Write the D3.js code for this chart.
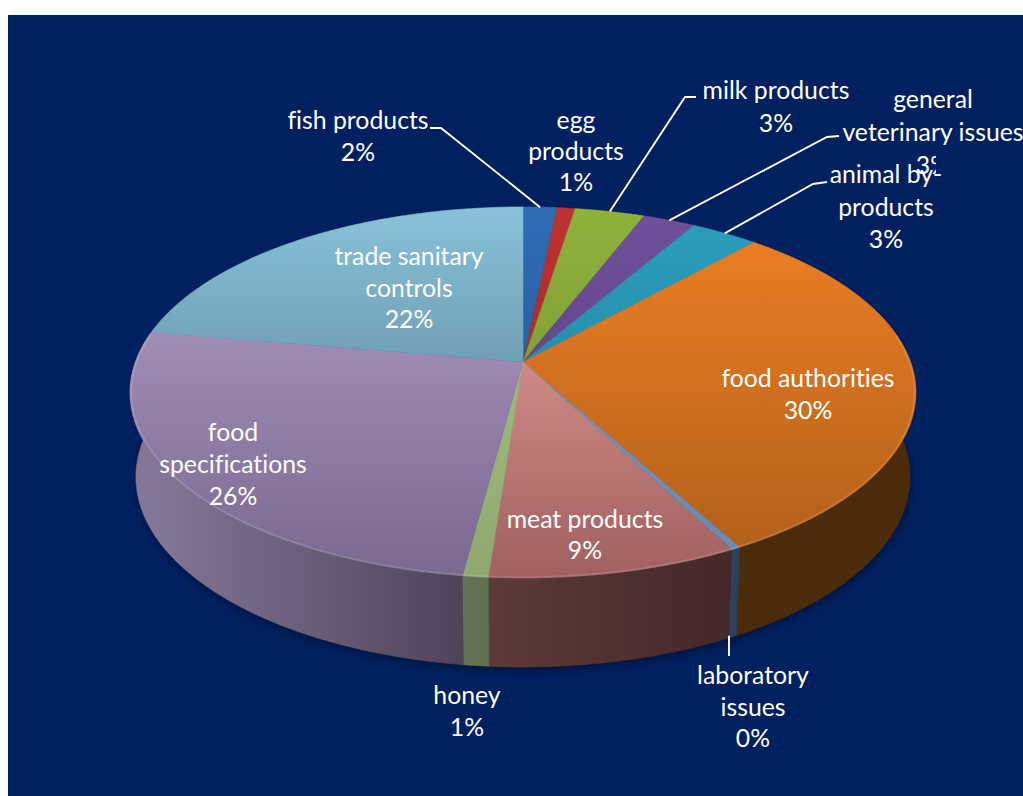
<!DOCTYPE html>
<html>
<head>
<meta charset="utf-8">
<script src="https://cdn.jsdelivr.net/npm/d3@7"></script>
<style>
html,body{margin:0;padding:0;background:#fff;overflow:hidden}
svg{display:block}
text{font-family:Lato,"Open Sans",sans-serif;fill:#fff;text-anchor:middle;font-variant-ligatures:none}
</style>
</head>
<body>
<svg id="chart" width="1023" height="796"></svg>
<script>
// Shares of the audit programme by subject area, clockwise from twelve o'clock.
const categories = ["fish products","egg products","milk products","general veterinary issues","animal by-products","food authorities","laboratory issues","meat products","honey","food specifications","trade sanitary controls"];
const shares = [1.63,0.87,3.36,2.55,3.25,30.4,0.33,8.8,0.9,25.6,22.31];

// Top face shading runs from the far rim to the near rim.
const topFar  = ["#2f6db5","#bd3230","#8fb23c","#70509c","#2a9fbf","#f08125","#7d9fc6","#f0a8a2","#adc782","#b49fcc","#88c2da"];
const topNear = ["#234f86","#8e2624","#6e8a30","#553c78","#1f7a92","#ae5d19","#6a88ab","#a06060","#8fa870","#7a688e","#4f6f80"];
// Side wall shading runs from the left of a slice to its right.
const wallLeft  = ["#1d3250","#4c1a1a","#3c4a1c","#33254a","#163c48","#46290c","#30475f","#5c3a38","#627654","#837696","#3a5560"];
const wallRight = ["#1d3250","#4c1a1a","#3c4a1c","#33254a","#163c48","#4c2c0a","#2c4058","#452829","#5c7050","#4f435a","#3a5560"];

// Wrapped label text, one array of lines per category.
const nameLines = [["fish products"],["egg","products"],["milk products"],["general","veterinary issues"],["animal by-","products"],["food authorities"],["laboratory","issues"],["meat products"],["honey"],["food","specifications"],["trade sanitary","controls"]];
// Centre x and first baseline of each label, then its line spacing.
const labelAt = [[358,129],[576,129],[776,99],[933,108],[886,183],[808,387],[753,684],[585,528],[467,704],[233,441],[409,265]];
const labelGap = [31.5,31,33,33,32.5,32,31.5,31,31.5,32,31.5];
// Leader line: elbow then end, null when the label sits without one.
const leaderPath = [[[441,128],[430,128]],null,[[685,97],[696,97]],[[827,137],[839,136]],[[813,184],[827,182]],null,[[729,656]],null,null,null,null];

const fontSize = 24.8;

const svg = d3.select("#chart");
svg.append("rect").attr("x",8).attr("y",15).attr("width",1015).attr("height",781).attr("fill","#002060");
const defs = svg.append("defs");

defs.append("filter").attr("id","soft").attr("x","-10%").attr("y","-10%").attr("width","120%").attr("height","125%")
  .append("feGaussianBlur").attr("stdDeviation",4);
defs.append("clipPath").attr("id","cutGeneral").append("rect")
  .attr("x",8).attr("y",15).attr("width",928).attr("height",781);

// Perspective projection of a tilted disc; phi is measured clockwise from the far point.
const tilt = 0.1644;
const discTop    = {cx:523, cy:362,   a:387.6, b:180.5};
const discBottom = {cx:523, cy:445.7, a:381.8, b:184.9};
function project(disc, phi, r = 1) {
  const u = r*Math.sin(phi), v = -r*Math.cos(phi), d = 1 - tilt*v;
  return [disc.cx + disc.a*u/d, disc.cy + disc.b*v/d];
}
const arcSamples = (a0,a1) => d3.range(0,1.0001,1/Math.max(4,Math.ceil((a1-a0)*120))).map(t => a0+(a1-a0)*t);
const polyline = d3.line();

const pie = d3.pie().sort(null).value(d => d);
const slices = pie(shares).map((s,i) => ({...s, i}));
const total = d3.sum(shares);
const pct = d3.format(".0%");

// Gradients for each slice's top and wall.
slices.forEach(s => {
  const a = project(discBottom, s.startAngle), b = project(discBottom, s.endAngle);
  const front = s.startAngle > Math.PI/2 - 0.2 && s.endAngle < 3*Math.PI/2 + 0.5;
  const tg = defs.append("linearGradient").attr("id","top"+s.i).attr("gradientUnits","userSpaceOnUse")
    .attr("x1",0).attr("x2",0).attr("y1",207).attr("y2",578);
  tg.append("stop").attr("offset",0).attr("stop-color",topFar[s.i]);
  tg.append("stop").attr("offset",1).attr("stop-color",topNear[s.i]);
  const x0 = front ? Math.min(a[0],b[0]) : 0, x1 = front ? Math.max(a[0],b[0]) : 1023;
  const wg = defs.append("linearGradient").attr("id","wall"+s.i).attr("gradientUnits","userSpaceOnUse")
    .attr("x1",x0).attr("x2",x1).attr("y1",0).attr("y2",0);
  wg.append("stop").attr("offset",0).attr("stop-color",wallLeft[s.i]);
  wg.append("stop").attr("offset",1).attr("stop-color",wallRight[s.i]);
});

// Soft shadow under the disc.
svg.append("path")
  .attr("d", polyline(arcSamples(0,2*Math.PI).map(p => { const q = project(discBottom,p); return [q[0]+1,q[1]+4]; }))+"Z")
  .attr("fill","#000").attr("opacity",0.35).attr("filter","url(#soft)");

// Walls first, so the top face overlaps the ones behind it.
svg.append("g").selectAll("path").data(slices).join("path")
  .attr("d", s => {
    const ang = arcSamples(s.startAngle,s.endAngle);
    return polyline([...ang.map(p => project(discTop,p)), ...ang.reverse().map(p => project(discBottom,p))])+"Z";
  })
  .attr("fill", s => `url(#wall${s.i})`)
  .attr("stroke", s => `url(#wall${s.i})`).attr("stroke-width",0.6);

// Top face slices.
svg.append("g").selectAll("path").data(slices).join("path")
  .attr("d", s => polyline([[discTop.cx,discTop.cy], ...arcSamples(s.startAngle,s.endAngle).map(p => project(discTop,p))])+"Z")
  .attr("fill", s => `url(#top${s.i})`)
  .attr("stroke", s => `url(#top${s.i})`).attr("stroke-width",0.5);

// Pale bevel along the near rim only.
svg.append("path")
  .attr("d", polyline(arcSamples(Math.PI*0.45,Math.PI*1.55).map(p => project(discTop,p,0.997))))
  .attr("fill","none").attr("stroke","#fff").attr("stroke-opacity",0.13).attr("stroke-width",2);

// Leader lines start on the rim at each slice's mid angle.
const leaders = slices.filter(s => leaderPath[s.i]);
svg.append("g").selectAll("path").data(leaders).join("path")
  .attr("d", s => {
    const mid = (s.startAngle+s.endAngle)/2;
    const pts = leaderPath[s.i];
    const near = Math.cos(mid) < 0;
    const p0 = near ? [pts[0][0], project(discBottom,mid)[1]-1] : project(discTop,mid);
    return polyline([p0, ...pts]);
  })
  .attr("fill","none").attr("stroke","#fff").attr("stroke-width",1.9);

// Category name and percentage, one text per line.
const labels = svg.append("g").selectAll("text")
  .data(slices.flatMap(s => {
    const lines = [...nameLines[s.i], pct(s.value/total)];
    return lines.map((t,j) => ({t, s, j, last:j===lines.length-1}));
  }))
  .join("text")
  .attr("x", d => labelAt[d.s.i][0])
  .attr("y", d => labelAt[d.s.i][1] + d.j*labelGap[d.s.i])
  .attr("font-size", fontSize)
  .attr("clip-path", d => d.s.i===3 && d.last ? "url(#cutGeneral)" : null)
  .text(d => d.t);
</script>
</body>
</html>
